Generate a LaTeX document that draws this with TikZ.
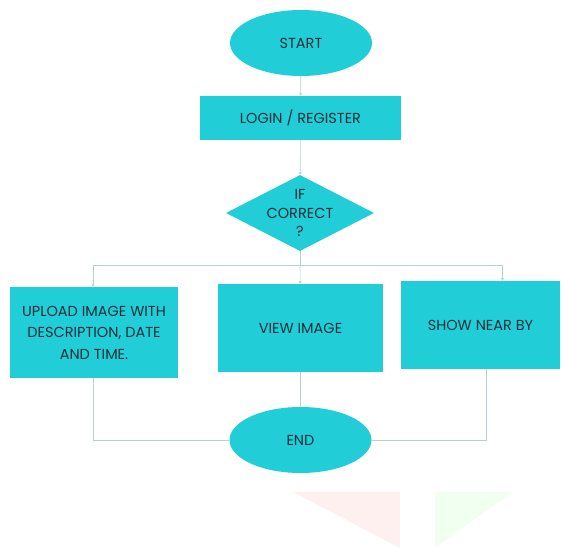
\documentclass[tikz,border=0pt]{standalone}
\usepackage{fontspec}
\setmainfont{Poppins}
\usetikzlibrary{arrows.meta,shapes.geometric}
\definecolor{boxcyan}{RGB}{33,206,216}
\definecolor{linegrey}{RGB}{185,208,210}
\definecolor{textdark}{RGB}{22,48,58}

\begin{document}
\begin{tikzpicture}[x=1pt, y=-1pt,
    flowshape/.style={draw=none, fill=boxcyan, text=textdark, inner sep=0pt,
        align=center, font=\fontsize{14.5}{21.5}\selectfont},
    terminal/.style={flowshape, ellipse},
    process/.style={flowshape, rectangle},
    decision/.style={flowshape, diamond, shape aspect=2, inner ysep=-20pt},
    flowline/.style={draw=linegrey, line width=0.6pt},
    flowarrow/.style={flowline, -{Stealth[length=3pt,width=3pt]}}]
    %% Frame
    \useasboundingbox (0,0) rectangle (563,548);
    \fill[white] (0,0) rectangle (563,548);
    %% Faint marks at the bottom
    \fill[red!6] (293,492) -- (400,492) -- (400,548) -- cycle;
    \fill[green!6] (435,492) -- (512,492) -- (435,548) -- cycle;
    %% Nodes
    \node[terminal, minimum width=142pt, minimum height=66pt] (start) at (301,43) {START};
    \node[process, minimum width=201pt, minimum height=44pt] (login) at (300.5,118) {LOGIN / REGISTER};
    \node[decision, minimum width=148pt, minimum height=76pt] (check) at (300,213)
        {IF\\[-3pt]CORRECT\\[-3pt]?};
    \node[process, minimum width=168pt, minimum height=91pt] (upload) at (94,332.5)
        {UPLOAD IMAGE WITH\\DESCRIPTION, DATE\\AND TIME.};
    \node[process, minimum width=165pt, minimum height=88pt] (view) at (300.5,328) {VIEW IMAGE};
    \node[process, minimum width=159pt, minimum height=88pt] (show) at (480.5,325) {SHOW NEAR BY};
    \node[terminal, minimum width=142pt, minimum height=66pt] (end) at (300.5,440) {END};
    \coordinate (split) at (300,265);
    %% Connectors
    \draw[flowarrow] (start) -- (login);
    \draw[flowarrow] (login) -- (check);
    \draw[flowline] (check) -- (split);
    \draw[flowarrow] (split) -| ([xshift=-1pt]upload.north);
    \draw[flowarrow] (split) -- (view);
    \draw[flowarrow] (split) -| ([xshift=22pt]show.north);
    \draw[flowline] ([xshift=-1pt]upload.south) |- (end);
    \draw[flowline] (view) -- (end);
    \draw[flowline] ([xshift=6pt]show.south) |- (end);
\end{tikzpicture}
\end{document}
